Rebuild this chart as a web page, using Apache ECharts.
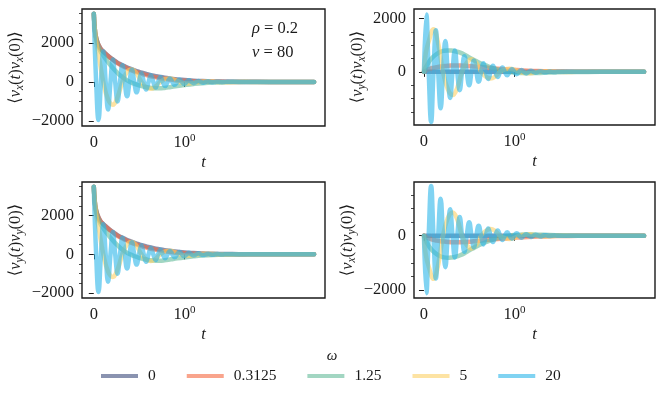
<!DOCTYPE html>
<html>
<head>
<meta charset="utf-8">
<script src="https://cdn.jsdelivr.net/npm/echarts@6/dist/echarts.min.js"></script>
<style>
html, body { margin: 0; padding: 0; background: #fff; }
#main { width: 664px; height: 401px; }
</style>
</head>
<body>
<div id="main"></div>
<script>
// positions on the symlog t axis: 0 is the "0" tick, 1 is the "10^0" tick
var pos1 = [0, 0.01, 0.02, 0.04, 0.07, 0.1, 0.14, 0.18, 0.22, 0.26, 0.3, 0.35, 0.4, 0.45, 0.5, 0.55, 0.6, 0.66, 0.72, 0.78, 0.85, 0.92, 1.0, 1.1, 1.2, 1.32, 1.45, 1.6, 1.8, 2.1, 2.43];
var pos5 = [0, 0.02, 0.053, 0.105, 0.158, 0.21, 0.263, 0.315, 0.368, 0.42, 0.473, 0.525, 0.578, 0.63, 0.683, 0.735, 0.788, 0.84, 0.893, 0.945, 0.998, 1.05, 1.103, 1.155, 1.208, 1.26, 1.313, 1.365, 1.47, 1.575, 1.68, 1.8, 2.43];
var pos20 = [0, 0.026, 0.052, 0.079, 0.105, 0.131, 0.157, 0.184, 0.21, 0.236, 0.262, 0.289, 0.315, 0.341, 0.367, 0.394, 0.42, 0.446, 0.472, 0.499, 0.525, 0.551, 0.577, 0.604, 0.63, 0.656, 0.682, 0.709, 0.735, 0.761, 0.787, 0.814, 0.84, 0.866, 0.892, 0.919, 0.945, 0.971, 0.997, 1.024, 1.05, 1.076, 1.102, 1.129, 1.155, 1.181, 1.207, 1.234, 1.26, 1.286, 1.312, 1.339, 1.365, 1.391, 1.417, 1.444, 1.47, 1.6, 2.43];

// <v_x(t) v_x(0)>  (the <v_y(t) v_y(0)> panel shows the same curves)
var vxvx_w0 = [3500, 2800, 2400, 2040, 1740, 1580, 1410, 1250, 1120, 990, 890, 780, 680, 590, 515, 450, 385, 320, 265, 215, 170, 130, 100, 65, 43, 26, 14, 7, 3, 1, 0];
var vxvx_w03 = [3500, 2800, 2400, 2040, 1735, 1575, 1400, 1240, 1100, 960, 855, 740, 630, 540, 460, 390, 325, 260, 205, 160, 120, 85, 60, 35, 18, 8, 3, 0, 0, 0, 0];
var vxvx_w1 = [3500, 2780, 2370, 1960, 1600, 1380, 1120, 880, 660, 470, 300, 130, 0, -100, -180, -240, -290, -320, -330, -310, -260, -210, -160, -105, -62, -30, -12, -4, 0, 0, 0];
var vxvx_w5 = [3500, 2250, 1390, 0, -900, -1170, -760, 0, 520, 640, 420, 0, -280, -350, -230, 0, 150, 180, 110, 0, -65, -80, -50, 0, 25, 32, 20, 0, -12, 0, 4, 0, 0];
var vxvx_w20 = [3500, 0, -1950, 0, 1570, 0, -1420, 0, 1150, 0, -1000, 0, 860, 0, -740, 0, 630, 0, -530, 0, 450, 0, -390, 0, 330, 0, -290, 0, 240, 0, -210, 0, 175, 0, -150, 0, 120, 0, -100, 0, 80, 0, -65, 0, 50, 0, -40, 0, 30, 0, -22, 0, 15, 0, -10, 0, 6, 0, 0];

// <v_y(t) v_x(0)>
var vyvx_w0 = [0, 0, 0, 0, 0, 0, 0, 0, 0, 0, 0, 0, 0, 0, 0, 0, 0, 0, 0, 0, 0, 0, 0, 0, 0, 0, 0, 0, 0, 0, 0];
var vyvx_w03 = [0, 25, 45, 80, 120, 148, 175, 200, 215, 228, 238, 242, 240, 232, 220, 205, 190, 170, 150, 130, 110, 90, 72, 52, 37, 24, 14, 7, 3, 1, 0];
var vyvx_w1 = [0, 100, 170, 290, 450, 560, 670, 750, 790, 805, 800, 770, 720, 640, 540, 450, 360, 270, 190, 120, 55, 10, -25, -45, -45, -35, -20, -8, -2, 0, 0];
var vyvx_w5 = [0, 700, 1150, 1600, 1050, 0, -650, -870, -600, 0, 350, 470, 330, 0, -180, -250, -170, 0, 90, 120, 80, 0, -40, -55, -38, 0, 15, 20, 0, -6, 0, 0, 0];
var vyvx_w20 = [0, 2150, 0, -1880, 0, 1560, 0, -1370, 0, 1160, 0, -980, 0, 800, 0, -690, 0, 590, 0, -500, 0, 430, 0, -370, 0, 320, 0, -270, 0, 230, 0, -190, 0, 160, 0, -130, 0, 110, 0, -90, 0, 72, 0, -58, 0, 45, 0, -35, 0, 26, 0, -19, 0, 13, 0, -9, 0, 0, 0];

// <v_x(t) v_y(0)>
var vxvy_w0 = [0, 0, 0, 0, 0, 0, 0, 0, 0, 0, 0, 0, 0, 0, 0, 0, 0, 0, 0, 0, 0, 0, 0, 0, 0, 0, 0, 0, 0, 0, 0];
var vxvy_w03 = [0, -25, -45, -80, -120, -150, -178, -200, -215, -228, -238, -242, -240, -232, -220, -205, -190, -170, -150, -130, -110, -90, -72, -52, -37, -24, -14, -7, -3, -1, 0];
var vxvy_w1 = [0, -100, -175, -300, -460, -570, -680, -760, -800, -815, -805, -775, -720, -640, -540, -450, -360, -270, -190, -120, -55, -10, 25, 45, 45, 35, 20, 8, 2, 0, 0];
var vxvy_w5 = [0, -700, -1150, -1590, -1050, 0, 650, 860, 600, 0, -350, -470, -330, 0, 180, 250, 170, 0, -90, -120, -80, 0, 40, 55, 38, 0, -15, -20, 0, 6, 0, 0, 0];
var vxvy_w20 = [0, -2120, 0, 1840, 0, -1580, 0, 1370, 0, -1160, 0, 980, 0, -800, 0, 690, 0, -590, 0, 500, 0, -430, 0, 370, 0, -320, 0, 270, 0, -230, 0, 190, 0, -160, 0, 130, 0, -110, 0, 90, 0, -72, 0, 58, 0, -45, 0, 35, 0, -26, 0, 19, 0, -13, 0, 9, 0, 0, 0];

var omegas = ['0', '0.3125', '1.25', '5', '20'];
var xTicks = [0, 1];

var FONT = 'Liberation Serif, DejaVu Serif, serif';
var INK = '#1a1a1a';
var COLORS = ['rgba(60,75,123,0.6)', 'rgba(245,103,63,0.6)', 'rgba(100,187,153,0.6)',
              'rgba(252,208,102,0.6)', 'rgba(43,182,233,0.6)'];

var RICH = {
    n: { fontFamily: FONT, fontSize: 16.5, color: INK, lineHeight: 20 },
    i: { fontFamily: FONT, fontSize: 16.5, fontStyle: 'italic', color: INK, lineHeight: 20 },
    s: { fontFamily: FONT, fontSize: 11.5, fontStyle: 'italic', color: INK, lineHeight: 11, verticalAlign: 'bottom' },
    sup: { fontFamily: FONT, fontSize: 11, color: INK, lineHeight: 10, verticalAlign: 'top' }
};

function yName(a, b) {
    return '{n|\u27E8}{i|v}{s|' + a + '}{n|(}{i|t}{n|)}{i|v}{s|' + b + '}{n|(0)\u27E9}';
}

var panels = [
    { grid: { left: 82, top: 9, width: 243, height: 117 }, xmin: -0.13, ymin: -2260, ymax: 3740,
      major: [-2000, 0, 2000], minor: [-1500, -1000, -500, 500, 1000, 1500, 2500, 3000, 3500],
      name: yName('x', 'x'), gap: 56,
      xs: [pos1, pos1, pos1, pos5, pos20], ys: [vxvx_w0, vxvx_w03, vxvx_w1, vxvx_w5, vxvx_w20] },
    { grid: { left: 414, top: 9, width: 241, height: 116 }, xmin: -0.11, ymin: -1995, ymax: 2360,
      major: [0, 2000], minor: [-1500, -1000, -500, 500, 1000, 1500],
      name: yName('y', 'x'), gap: 46,
      xs: [pos1, pos1, pos1, pos5, pos20], ys: [vyvx_w0, vyvx_w03, vyvx_w1, vyvx_w5, vyvx_w20] },
    { grid: { left: 82, top: 182, width: 243, height: 116 }, xmin: -0.13, ymin: -2260, ymax: 3740,
      major: [-2000, 0, 2000], minor: [-1500, -1000, -500, 500, 1000, 1500, 2500, 3000, 3500],
      name: yName('y', 'y'), gap: 56,
      xs: [pos1, pos1, pos1, pos5, pos20], ys: [vxvx_w0, vxvx_w03, vxvx_w1, vxvx_w5, vxvx_w20] },
    { grid: { left: 414, top: 182, width: 241, height: 116 }, xmin: -0.11, ymin: -2300, ymax: 1985,
      major: [-2000, 0], minor: [-1500, -1000, -500, 500, 1000, 1500],
      name: yName('x', 'y'), gap: 56,
      xs: [pos1, pos1, pos1, pos5, pos20], ys: [vxvy_w0, vxvy_w03, vxvy_w1, vxvy_w5, vxvy_w20] }
];

function zip(xs, ys) {
    return xs.map(function (x, i) { return [x, ys[i]]; });
}

var grids = [], xAxes = [], yAxes = [], series = [];
panels.forEach(function (p, gi) {
    grids.push(Object.assign({ show: true, borderColor: INK, borderWidth: 1.4, backgroundColor: 'transparent' }, p.grid));
    xAxes.push({
        type: 'value', gridIndex: gi, position: 'bottom', min: p.xmin, max: 2.55,
        name: '{i|t}', nameLocation: 'middle', nameGap: 27, nameTextStyle: { rich: RICH },
        axisLine: { show: false }, splitLine: { show: false },
        axisTick: { show: true, customValues: xTicks, length: 5, lineStyle: { color: INK, width: 1 } },
        axisLabel: {
            customValues: xTicks, margin: 7, fontFamily: FONT, fontSize: 16.5, color: INK, lineHeight: 20,
            rich: { sup: RICH.sup },
            formatter: function (v) { return v === 0 ? '0' : '10{sup|0}'; }
        }
    });
    yAxes.push({
        type: 'value', gridIndex: gi, position: 'left', min: p.ymin, max: p.ymax,
        name: p.name, nameLocation: 'middle', nameRotate: 90, nameGap: p.gap,
        nameTextStyle: { rich: RICH },
        axisLine: { show: false }, splitLine: { show: false },
        axisTick: { show: true, customValues: p.major, length: 5, lineStyle: { color: INK, width: 1 } },
        axisLabel: {
            customValues: p.major, margin: 8, fontFamily: FONT, fontSize: 16.5, color: INK,
            formatter: function (v) { return v < 0 ? '\u2212' + (-v) : String(v); }
        }
    });
    yAxes.push({
        type: 'value', gridIndex: gi, position: 'left', min: p.ymin, max: p.ymax,
        axisLine: { show: false }, splitLine: { show: false }, axisLabel: { show: false },
        axisTick: { show: true, customValues: p.minor, length: 3, lineStyle: { color: INK, width: 0.8 } }
    });
    omegas.forEach(function (w, k) {
        series.push({
            type: 'line', name: w, xAxisIndex: gi, yAxisIndex: gi * 2,
            data: zip(p.xs[k], p.ys[k]), smooth: 0.45, symbol: 'none', silent: true,
            lineStyle: { color: COLORS[k], width: 4.5, cap: 'round', join: 'round' },
            itemStyle: { color: COLORS[k] }
        });
    });
});

var chart = echarts.init(document.getElementById('main'));
chart.setOption({
    animation: false,
    textStyle: { fontFamily: FONT },
    grid: grids,
    xAxis: xAxes,
    yAxis: yAxes,
    series: series,
    legend: {
        data: omegas, left: 101, top: 368, padding: 0, icon: 'rect',
        itemWidth: 37, itemHeight: 4, itemGap: 31, selectedMode: false,
        textStyle: { fontFamily: FONT, fontSize: 15.5, color: INK, padding: [0, 0, 0, 5] }
    },
    graphic: [
        { type: 'text', x: 252, y: 29, style: { text: '{i|\u03C1} = 0.2', rich: RICH, fontFamily: FONT, fontSize: 16.5, fill: INK, verticalAlign: 'middle' } },
        { type: 'text', x: 252, y: 53, style: { text: '{i|\u03BD} = 80', rich: RICH, fontFamily: FONT, fontSize: 16.5, fill: INK, verticalAlign: 'middle' } },
        { type: 'text', x: 332, y: 356, style: { text: '\u03C9', fontFamily: FONT, fontStyle: 'italic', fontSize: 15, fill: INK, align: 'center', verticalAlign: 'middle' } }
    ]
});
</script>
</body>
</html>
